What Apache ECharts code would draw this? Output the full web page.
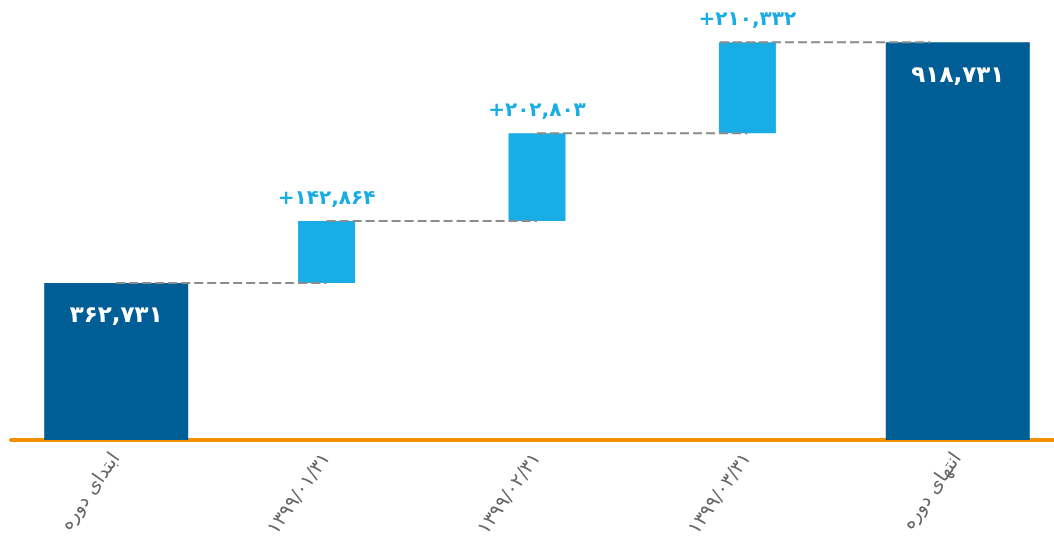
<!DOCTYPE html>
<html>
<head>
<meta charset="utf-8">
<script src="https://cdn.jsdelivr.net/npm/echarts@6/dist/echarts.min.js"></script>
<style>
html,body{margin:0;padding:0;background:#fff;}
#chart{width:1054px;height:542px;}
</style>
</head>
<body>
<div id="chart"></div>
<script>
// ---- data ----
var categories = ['ابتدای دوره', '۱۳۹۹/۰۱/۳۱', '۱۳۹۹/۰۲/۳۱', '۱۳۹۹/۰۳/۳۱', 'انتهای دوره'];
var startValue = 362731;
var changes = [142864, 202803, 210332];
var endValue = 918731;

// ---- helpers ----
function fa(n) {
  var s = Math.round(n).toString().replace(/\B(?=(\d{3})+(?!\d))/g, ',');
  return s.replace(/\d/g, function (d) { return '۰۱۲۳۴۵۶۷۸۹'[+d]; });
}

var totals = [startValue, '-', '-', '-', endValue];
var bases = ['-'];
var incs = ['-'];
var levels = [startValue];
var run = startValue;
changes.forEach(function (c) {
  bases.push(run);
  incs.push(c);
  run += c;
  levels.push(run);
});
bases.push('-'); incs.push('-');

// connector segments (category index space; centers at i+0.5)
var connectorShift = [0, 0, 0, -0.13];
var connectorSeries = [];
for (var i = 0; i < levels.length; i++) {
  var x0 = i + 0.5 + connectorShift[i];
  connectorSeries.push({
    type: 'line', xAxisIndex: 2, yAxisIndex: 0, symbol: 'none', silent: true, z: 3,
    lineStyle: { color: '#8c8c8c', width: 2, type: [9, 4] },
    data: [[x0, levels[i]], [x0 + 1, levels[i]]]
  });
}

var chart = echarts.init(document.getElementById('chart'));
var font = 'DejaVu Sans, sans-serif';
chart.setOption({
  animation: false,
  grid: { left: 11, top: 7, width: 1052, height: 433, outerBoundsMode: 'none', containLabel: false },
  xAxis: [
    {
      type: 'category', data: categories, position: 'bottom',
      axisLine: { lineStyle: { color: '#f39200', width: 4 } },
      axisTick: { show: false },
      axisLabel: { rotate: 55, color: '#666', fontSize: 19, fontFamily: font, margin: 15, interval: 0 }
    },
    { type: 'category', data: categories, show: false },
    { type: 'value', min: 0, max: 5, show: false }
  ],
  yAxis: [{ type: 'value', min: 0, max: 1000000, show: false }],
  series: [
    {
      type: 'bar', xAxisIndex: 0, data: totals, barWidth: 144, z: 2,
      itemStyle: { color: '#005e96' },
      label: {
        show: true, position: 'insideTop', distance: 22, color: '#fff',
        fontSize: 23, fontWeight: 'bold', fontFamily: font,
        formatter: function (p) { return fa(p.value); }
      }
    },
    {
      type: 'bar', xAxisIndex: 1, stack: 'w', data: bases, barWidth: 57,
      itemStyle: { color: 'transparent' }, silent: true
    },
    {
      type: 'bar', xAxisIndex: 1, stack: 'w', data: incs, barWidth: 57, z: 2,
      itemStyle: { color: '#19ade5' },
      label: {
        show: true, position: 'top', distance: 12, color: '#19ade5',
        fontSize: 20, fontWeight: 'bold', fontFamily: font,
        formatter: function (p) { return '+' + fa(p.value); }
      }
    }
  ].concat(connectorSeries)
});
</script>
</body>
</html>
